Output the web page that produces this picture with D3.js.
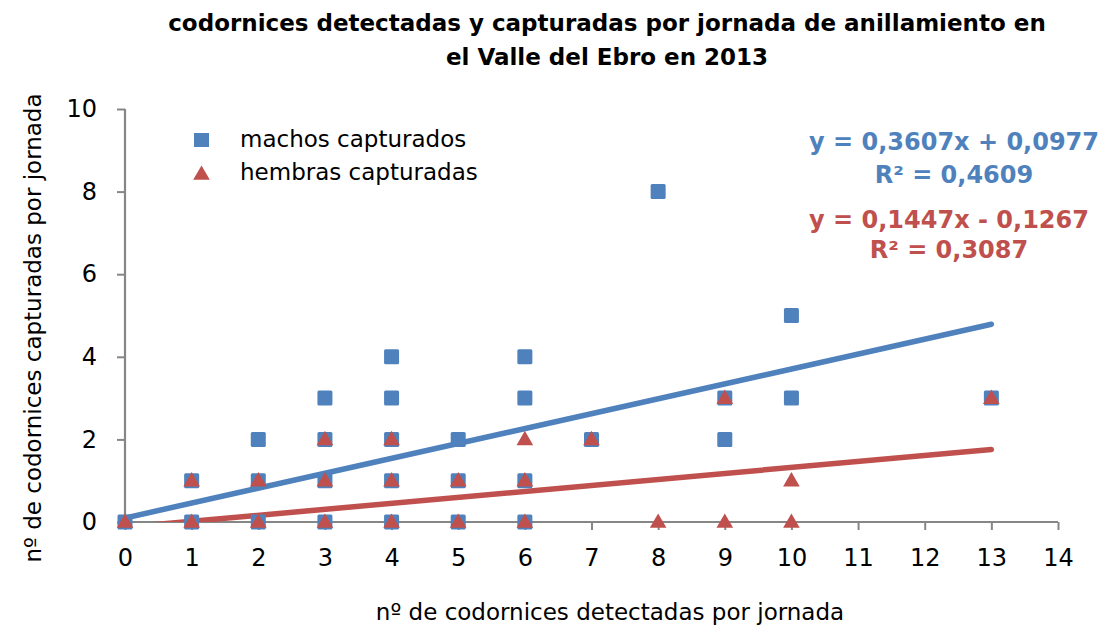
<!DOCTYPE html>
<html>
<head>
<meta charset="utf-8">
<script src="https://cdn.jsdelivr.net/npm/d3@7"></script>
<style>
  html, body { margin: 0; padding: 0; background: #fff; }
  svg { display: block; font-family: "DejaVu Sans", Verdana, sans-serif; }
</style>
</head>
<body>
<svg id="chart" width="1109" height="630"></svg>
<script>
// Codornices detectadas (x) frente a capturadas (y) por jornada
const machosX = [0, 1, 1, 2, 2, 2, 3, 3, 3, 3, 4, 4, 4, 4, 4, 5, 5, 5, 6, 6, 6, 6, 7, 8, 9, 9, 10, 10, 13];
const machosY = [0, 0, 1, 0, 1, 2, 0, 1, 2, 3, 0, 1, 2, 3, 4, 0, 1, 2, 0, 1, 3, 4, 2, 8, 2, 3, 3, 5, 3];
const hembrasX = [0, 1, 1, 2, 2, 3, 3, 3, 4, 4, 4, 5, 5, 6, 6, 6, 7, 8, 9, 9, 10, 10, 13];
const hembrasY = [0, 0, 1, 0, 1, 0, 1, 2, 0, 1, 2, 0, 1, 0, 1, 2, 2, 0, 0, 3, 0, 1, 3];

// Líneas de tendencia lineales (pendiente, ordenada, R²)
const trendMachos = { slope: 0.3607, intercept: 0.0977, r2: 0.4609 };
const trendHembras = { slope: 0.1447, intercept: -0.1267, r2: 0.3087 };

const xTicks = d3.range(0, 15, 1);
const yTicks = [0, 2, 4, 6, 8, 10];

const titleLines = [
  "codornices detectadas y capturadas por jornada de anillamiento en",
  "el Valle del Ebro en 2013"
];
const xTitle = "nº de codornices detectadas por jornada";
const yTitle = "nº de codornices capturadas por jornada";
const seriesNames = ["machos capturados", "hembras capturadas"];

const BLUE = "#4F81BD";
const RED = "#C0504D";
const AXIS = "#868686";
const FS = 23;

const svg = d3.select("#chart");
const plot = { left: 125, right: 1058, top: 109, bottom: 522 };

const x = d3.scaleLinear().domain([0, 14]).range([plot.left, plot.right]);
const y = d3.scaleLinear().domain([0, 10]).range([plot.bottom, plot.top]);

const fmt = v => v.toFixed(4).replace(".", ",");

// Title
svg.append("g")
  .selectAll("text")
  .data(titleLines)
  .join("text")
  .attr("x", 607)
  .attr("y", (d, i) => 31 + i * 34)
  .attr("text-anchor", "middle")
  .attr("font-weight", "bold")
  .attr("font-size", FS)
  .attr("fill", "#000")
  .text(d => d);

// Axes
const xAxis = svg.append("g")
  .attr("transform", `translate(0,${plot.bottom})`)
  .call(d3.axisBottom(x).tickValues(xTicks).tickSize(8).tickPadding(19).tickFormat(d3.format("d")));
const yAxis = svg.append("g")
  .attr("transform", `translate(${plot.left},0)`)
  .call(d3.axisLeft(y).tickValues(yTicks).tickSize(8).tickPadding(20).tickFormat(d3.format("d")));

[xAxis, yAxis].forEach(ax => {
  ax.select(".domain").attr("stroke", AXIS).attr("stroke-width", 2.2);
  ax.selectAll(".tick line").attr("stroke", AXIS).attr("stroke-width", 2);
  ax.selectAll(".tick text")
    .attr("font-family", "DejaVu Sans, Verdana, sans-serif")
    .attr("font-size", 24)
    .attr("fill", "#000");
});
// Plain axis lines without the outer end ticks
yAxis.select(".domain").attr("d", `M0,${plot.top}V${plot.bottom}`);
xAxis.select(".domain").attr("d", `M${plot.left},0H${plot.right}`);

// Axis titles
svg.append("text")
  .attr("x", 610)
  .attr("y", 620)
  .attr("text-anchor", "middle")
  .attr("font-size", FS)
  .attr("fill", "#000")
  .text(xTitle);

svg.append("text")
  .attr("transform", `translate(41,328) rotate(-90)`)
  .attr("text-anchor", "middle")
  .attr("font-size", FS)
  .attr("fill", "#000")
  .text(yTitle);

// Trend lines, clipped to the plot area
svg.append("clipPath").attr("id", "plotClip")
  .append("rect")
  .attr("x", plot.left).attr("y", plot.top)
  .attr("width", plot.right - plot.left).attr("height", plot.bottom - plot.top);

const trendGroup = svg.append("g").attr("clip-path", "url(#plotClip)");
[[trendMachos, BLUE, machosX], [trendHembras, RED, hembrasX]].forEach(([t, c, xs]) => {
  const x0 = d3.min(xs), x1 = d3.max(xs);
  trendGroup.append("line")
    .attr("x1", x(x0)).attr("y1", y(t.slope * x0 + t.intercept))
    .attr("x2", x(x1)).attr("y2", y(t.slope * x1 + t.intercept))
    .attr("stroke", c)
    .attr("stroke-width", 5.5)
    .attr("stroke-linecap", "round");
});

// Markers
const sq = 15;
svg.append("g")
  .selectAll("rect")
  .data(d3.zip(machosX, machosY))
  .join("rect")
  .attr("x", d => x(d[0]) - sq / 2)
  .attr("y", d => y(d[1]) - sq / 2)
  .attr("width", sq).attr("height", sq)
  .attr("rx", 1.5)
  .attr("fill", BLUE);

const tri = d3.symbol().type(d3.symbolTriangle).size(120);
svg.append("g")
  .selectAll("path")
  .data(d3.zip(hembrasX, hembrasY))
  .join("path")
  .attr("d", tri)
  .attr("transform", d => `translate(${x(d[0])},${y(d[1]) + 1})`)
  .attr("fill", RED);

// Legend
const legend = svg.append("g");
legend.append("rect").attr("x", 194).attr("y", 133).attr("width", 15).attr("height", 14).attr("fill", BLUE);
legend.append("path").attr("d", tri).attr("transform", "translate(201.5,175)").attr("fill", RED);
legend.selectAll("text")
  .data(seriesNames)
  .join("text")
  .attr("x", 240)
  .attr("y", (d, i) => 147 + i * 33)
  .attr("font-size", FS)
  .attr("fill", "#000")
  .text(d => d);

// Trend equations
const eqs = [
  { t: trendMachos, c: BLUE, sign: "+", cx: 954, y0: 150, y1: 183 },
  { t: trendHembras, c: RED, sign: "-", cx: 949, y0: 228, y1: 258 }
];
eqs.forEach(e => {
  const g = svg.append("g").attr("fill", e.c).attr("font-weight", "bold").attr("font-size", 24)
    .attr("text-anchor", "middle");
  g.append("text")
    .attr("x", e.cx).attr("y", e.y0)
    .text(`y = ${fmt(e.t.slope)}x ${e.sign} ${fmt(Math.abs(e.t.intercept))}`);
  g.append("text")
    .attr("x", e.cx).attr("y", e.y1)
    .text(`R² = ${fmt(e.t.r2)}`);
});
</script>
</body>
</html>
